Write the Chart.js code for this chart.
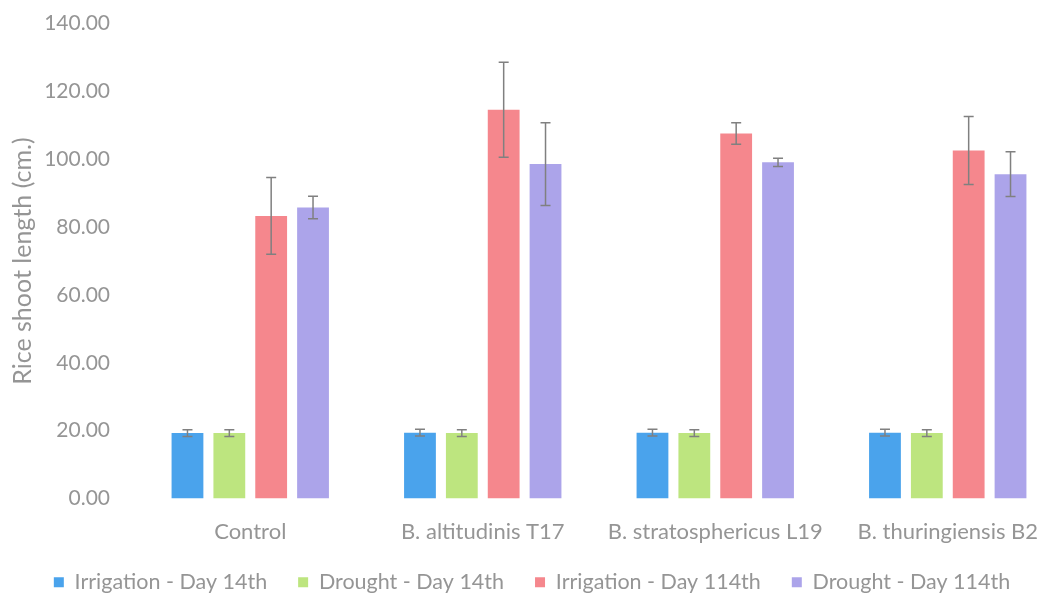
<!DOCTYPE html>
<html>
<head>
<meta charset="utf-8">
<script src="https://cdn.jsdelivr.net/npm/chart.js@4.4.1/dist/chart.umd.min.js"></script>
<style>
  html, body { margin: 0; padding: 0; background: #fff; overflow: hidden; }
  #wrap { width: 1040px; height: 595px; overflow: hidden; }
  #box { width: 1080px; height: 616px; margin-top: -13px; }
</style>
</head>
<body>
<div id="wrap"><div id="box"><canvas id="chart"></canvas></div></div>
<script>
// Rice shoot length per treatment, with standard deviation bars
const categories = ["Control", "B. altitudinis T17", "B. stratosphericus L19", "B. thuringiensis B2"]
const seriesNames = ["Irrigation - Day 14th", "Drought - Day 14th", "Irrigation - Day 114th", "Drought - Day 114th"]

const irrigation14 = [19.3, 19.4, 19.4, 19.4]
const drought14 = [19.3, 19.3, 19.3, 19.3]
const irrigation114 = [83.3, 114.6, 107.6, 102.6]
const drought114 = [85.8, 98.6, 99.1, 95.6]

const irrigation14Err = [1.0, 1.0, 1.0, 1.0]
const drought14Err = [1.0, 1.0, 1.0, 1.0]
const irrigation114Err = [11.3, 14.0, 3.2, 10.0]
const drought114Err = [3.3, 12.2, 1.2, 6.6]

const yTicks = [0, 20, 40, 60, 80, 100, 120, 140]

const colors = ["#4aa3ec", "#bde57f", "#f5878d", "#aca4ea"]
const textGray = "#959595"
const fontFamily = "Lato, 'Open Sans', sans-serif"

const values = [irrigation14, drought14, irrigation114, drought114]
const errors = [irrigation14Err, drought14Err, irrigation114Err, drought114Err]

// draws the +/- error whiskers on top of each bar
const errorBars = {
  id: "errorBars",
  afterDatasetsDraw(chart) {
    const ctx = chart.ctx
    const y = chart.scales.y
    ctx.save()
    ctx.strokeStyle = "#808080"
    ctx.lineWidth = 1.5
    chart.data.datasets.forEach((ds, i) => {
      const meta = chart.getDatasetMeta(i)
      meta.data.forEach((bar, j) => {
        const v = ds.data[j]
        const e = ds.errors[j]
        const top = y.getPixelForValue(v + e)
        const bottom = y.getPixelForValue(v - e)
        const x = bar.x
        ctx.beginPath()
        ctx.moveTo(x, top)
        ctx.lineTo(x, bottom)
        ctx.moveTo(x - 5, top)
        ctx.lineTo(x + 5, top)
        ctx.moveTo(x - 5, bottom)
        ctx.lineTo(x + 5, bottom)
        ctx.stroke()
      })
    })
    ctx.restore()
  }
}

new Chart(document.getElementById("chart"), {
  type: "bar",
  data: {
    labels: categories,
    datasets: seriesNames.map((name, i) => ({
      label: name,
      data: values[i],
      errors: errors[i],
      backgroundColor: colors[i],
      borderWidth: 0,
      categoryPercentage: 0.72,
      barPercentage: 0.76
    }))
  },
  options: {
    responsive: true,
    maintainAspectRatio: false,
    animation: false,
    layout: { padding: { top: 0, left: 0, right: 16, bottom: 0 } },
    scales: {
      x: {
        grid: { display: false, drawTicks: false },
        border: { display: false },
        ticks: {
          color: textGray,
          font: { family: fontFamily, size: 22 },
          padding: 20
        },
        afterFit(scale) {
          scale.height = 42
          // keep descenders of the category labels from being clipped
          scale._computeLabelArea = () => undefined
        }
      },
      y: {
        min: 0,
        max: 140,
        afterBuildTicks(scale) { scale.ticks = yTicks.map(v => ({ value: v })) },
        grid: { display: false, drawTicks: false },
        border: { display: false },
        ticks: {
          color: textGray,
          font: { family: fontFamily, size: 21 },
          padding: 24,
          callback: v => v.toFixed(2)
        },
        title: {
          display: true,
          text: "Rice shoot length (cm.)",
          color: textGray,
          font: { family: fontFamily, size: 25 },
          padding: { top: 8, bottom: 0 }
        },
        afterFit(scale) { scale.width = 134 }
      }
    },
    plugins: {
      legend: {
        position: "bottom",
        labels: {
          color: textGray,
          font: { family: fontFamily, size: 21.5 },
          boxWidth: 10,
          boxHeight: 10,
          padding: 31
        }
      },
      tooltip: { enabled: false }
    }
  },
  plugins: [errorBars]
})
</script>
</body>
</html>
